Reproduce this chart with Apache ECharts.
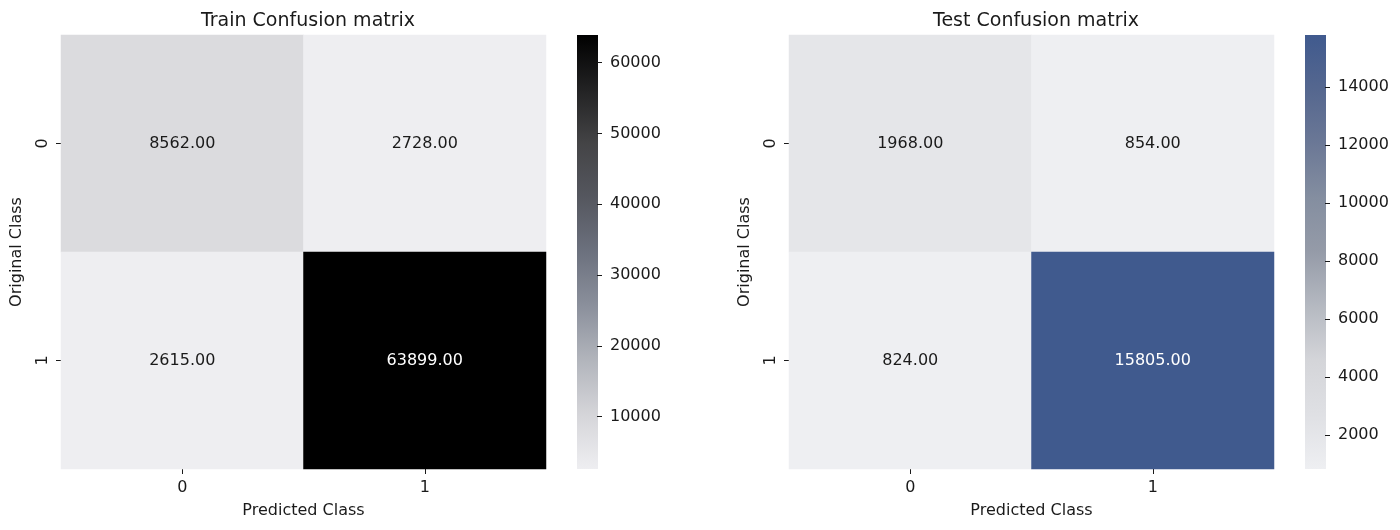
<!DOCTYPE html>
<html>
<head>
<meta charset="utf-8">
<script src="https://cdn.jsdelivr.net/npm/echarts@6/dist/echarts.min.js"></script>
<style>
  html, body { margin: 0; padding: 0; background: #fff; }
  #main { width: 1400px; height: 530px; }
</style>
</head>
<body>
<div id="main"></div>
<script>
// class labels on both axes
const classes = ['0', '1'];

// [predicted, original, count]
const trainCells = [
  [0, 0, 8562], [1, 0, 2728],
  [0, 1, 2615], [1, 1, 63899]
];
const testCells = [
  [0, 0, 1968], [1, 0, 854],
  [0, 1, 824], [1, 1, 15805]
];

const trainTicks = [10000, 20000, 30000, 40000, 50000, 60000];
const testTicks = [2000, 4000, 6000, 8000, 10000, 12000, 14000];

const trainColors = ['#eeeef1', '#d5d5d9', '#b2b5bc', '#8b909c', '#6c717e', '#55575f', '#444446', '#222223', '#000000'];
const testColors = ['#eeeff2', '#dfe0e4', '#d4d5d9', '#b5b9c1', '#959ba8', '#848ea0', '#6b7896', '#55678f', '#405a8e'];

const font = 'DejaVu Sans';
const textColor = '#1a1a1a';

function minOf(cells) { return Math.min(...cells.map(c => c[2])); }
function maxOf(cells) { return Math.max(...cells.map(c => c[2])); }

const panels = [
  { title: 'Train Confusion matrix', cells: trainCells, ticks: trainTicks, colors: trainColors, left: 61, barLeft: 577, titleX: 303 },
  { title: 'Test Confusion matrix', cells: testCells, ticks: testTicks, colors: testColors, left: 789, barLeft: 1305, titleX: 1031 }
];

const gridTop = 35, gridHeight = 434, gridWidth = 485, barWidth = 21;

const option = {
  backgroundColor: '#fff',
  animation: false,
  textStyle: { fontFamily: font },
  title: panels.map(p => ({
    text: p.title,
    left: p.titleX,
    top: 7,
    textAlign: 'center',
    textStyle: { fontFamily: font, fontSize: 19, fontWeight: 'normal', color: textColor }
  })),
  grid: [],
  xAxis: [],
  yAxis: [],
  visualMap: [],
  series: [],
  graphic: []
};

panels.forEach((p, i) => {
  const lo = minOf(p.cells), hi = maxOf(p.cells);
  const hg = i * 2, cg = i * 2 + 1;

  // heatmap grid
  option.grid.push({ left: p.left, top: gridTop, width: gridWidth, height: gridHeight });
  // thin grid on the right edge of the colorbar, carries its value axis
  option.grid.push({ left: p.barLeft + barWidth - 1, top: gridTop, width: 1, height: gridHeight });

  option.xAxis.push({
    type: 'category',
    gridIndex: hg,
    data: classes,
    name: 'Predicted Class',
    nameLocation: 'middle',
    nameGap: 34,
    nameTextStyle: { fontFamily: font, fontSize: 16, color: textColor },
    axisLine: { show: false },
    axisTick: { show: true, alignWithLabel: true, length: 5, lineStyle: { color: textColor } },
    axisLabel: { fontFamily: font, fontSize: 16, color: textColor, margin: 11 },
    splitArea: { show: false }
  });
  option.xAxis.push({
    type: 'value',
    gridIndex: cg,
    show: false,
    min: 0,
    max: 1
  });

  option.yAxis.push({
    type: 'category',
    gridIndex: hg,
    data: classes,
    inverse: true,
    name: 'Original Class',
    nameLocation: 'middle',
    nameRotate: 90,
    nameGap: 36,
    nameTextStyle: { fontFamily: font, fontSize: 16, color: textColor },
    axisLine: { show: false },
    axisTick: { show: true, alignWithLabel: true, length: 5, lineStyle: { color: textColor } },
    axisLabel: { fontFamily: font, fontSize: 16, color: textColor, rotate: 90, margin: 10 },
    splitArea: { show: false }
  });
  option.yAxis.push({
    type: 'value',
    gridIndex: cg,
    position: 'right',
    min: lo,
    max: hi,
    axisLine: { show: false },
    splitLine: { show: false },
    axisTick: { show: true, inside: false, length: 5, customValues: p.ticks, lineStyle: { color: textColor } },
    axisLabel: {
      fontFamily: font, fontSize: 16, color: textColor, margin: 12,
      customValues: p.ticks,
      formatter: v => String(v)
    }
  });

  option.visualMap.push({
    type: 'continuous',
    show: false,
    seriesIndex: i,
    min: lo,
    max: hi,
    inRange: { color: p.colors }
  });

  // colorbar: same evenly spaced stops the visualMap interpolates over
  option.graphic.push({
    type: 'rect',
    left: p.barLeft,
    top: gridTop,
    z: 0,
    shape: { width: barWidth, height: gridHeight },
    style: {
      fill: new echarts.graphic.LinearGradient(0, 1, 0, 0,
        p.colors.map((c, k) => ({ offset: k / (p.colors.length - 1), color: c })))
    },
    silent: true
  });

  option.series.push({
    type: 'heatmap',
    xAxisIndex: hg,
    yAxisIndex: hg,
    data: p.cells.map(c => ({
      value: c,
      // white text on the darkest cell, like the reference
      label: c[2] === hi ? { color: '#ffffff' } : undefined
    })),
    label: {
      show: true,
      fontFamily: font,
      fontSize: 16,
      formatter: params => params.value[2].toFixed(2),
      color: textColor
    },
    itemStyle: { borderWidth: 0 },
    emphasis: { disabled: true }
  });
});

const chart = echarts.init(document.getElementById('main'));
chart.setOption(option);
</script>
</body>
</html>
